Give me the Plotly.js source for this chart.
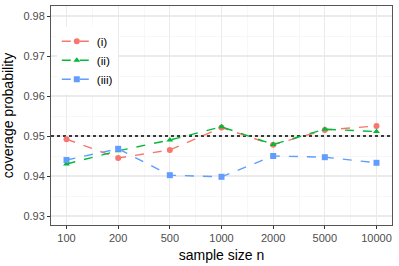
<!DOCTYPE html>
<html><head><meta charset="utf-8">
<script src="https://cdn.plot.ly/plotly-3.0.1.min.js"></script>
<style>html,body{margin:0;padding:0;background:#fff}#c{width:399px;height:266px}</style>
</head><body><div id="c"></div>
<script>
const categories = ["100","200","500","1000","2000","5000","10000"];
const seriesNames = ["(i)","(ii)","(iii)"];
const valsI   = [0.9492, 0.9445, 0.9465, 0.9521, 0.9478, 0.9515, 0.9525];
const valsII  = [0.9430, 0.9463, 0.9490, 0.9523, 0.9479, 0.9517, 0.9511];
const valsIII = [0.9440, 0.9468, 0.9402, 0.9398, 0.9450, 0.9447, 0.9433];
const refLevel = 0.95;
const yTicks = [0.93, 0.94, 0.95, 0.96, 0.97, 0.98];

const colors = ["#F8766D","#00BA38","#619CFF"];
const symbols = ["circle","triangle-up","square"];
const xs = categories.map((_, i) => i);
const allVals = [valsI, valsII, valsIII];

const traces = allVals.map((v, k) => ({
  x: xs, y: v, type: "scatter", mode: "lines+markers", name: seriesNames[k],
  line: {color: colors[k], dash: "dash", width: 1.4},
  marker: {color: colors[k], symbol: symbols[k], size: 6}
}));
traces.unshift({
  x: [-0.3, categories.length - 0.7], y: [refLevel, refLevel], type: "scatter", mode: "lines",
  line: {color: "#000", dash: "dot", width: 1.5}, showlegend: false, hoverinfo: "skip"
});

const layout = {
  width: 399, height: 266,
  margin: {l: 51, r: 7, t: 6, b: 41},
  paper_bgcolor: "#fff", plot_bgcolor: "#fff",
  font: {family: "Liberation Sans, Arial, sans-serif", size: 11, color: "#4d4d4d"},
  showlegend: true,
  legend: {x: 0.017, y: 0.905, xanchor: "left", yanchor: "top", bgcolor: "#fff",
           font: {size: 11.8, color: "#000"}, itemwidth: 30, tracegroupgap: 0},
  xaxis: {
    range: [-0.3, categories.length - 0.7], tickvals: xs, ticktext: categories,
    showgrid: true, gridcolor: "#ebebeb", gridwidth: 1.1, zeroline: false,
    showline: true, linecolor: "#555", linewidth: 1, mirror: true,
    ticks: "outside", ticklen: 3, tickcolor: "#333", tickwidth: 1,
    minor: {tickvals: xs.slice(0, -1).map(i => i + 0.5).concat([-0.5]), showgrid: true, gridcolor: "#f2f2f2", gridwidth: 0.6, ticks: ""},
    title: {text: "sample size n", font: {size: 14, color: "#000"}, standoff: 6},
    tickfont: {size: 11, color: "#4d4d4d"}
  },
  yaxis: {
    range: [0.92775, 0.9825], tickvals: yTicks, ticktext: yTicks.map(v => v.toFixed(2)),
    showgrid: true, gridcolor: "#ebebeb", gridwidth: 1.1, zeroline: false,
    showline: true, linecolor: "#555", linewidth: 1, mirror: true,
    ticks: "outside", ticklen: 3, tickcolor: "#333", tickwidth: 1,
    minor: {tickvals: yTicks.map(v => v + 0.005), showgrid: true, gridcolor: "#f2f2f2", gridwidth: 0.6, ticks: ""},
    title: {text: "coverage probability", font: {size: 14, color: "#000"}, standoff: 6},
    tickfont: {size: 11, color: "#4d4d4d"}
  }
};
Plotly.newPlot("c", traces, layout, {displayModeBar: false, staticPlot: true});
</script></body></html>
